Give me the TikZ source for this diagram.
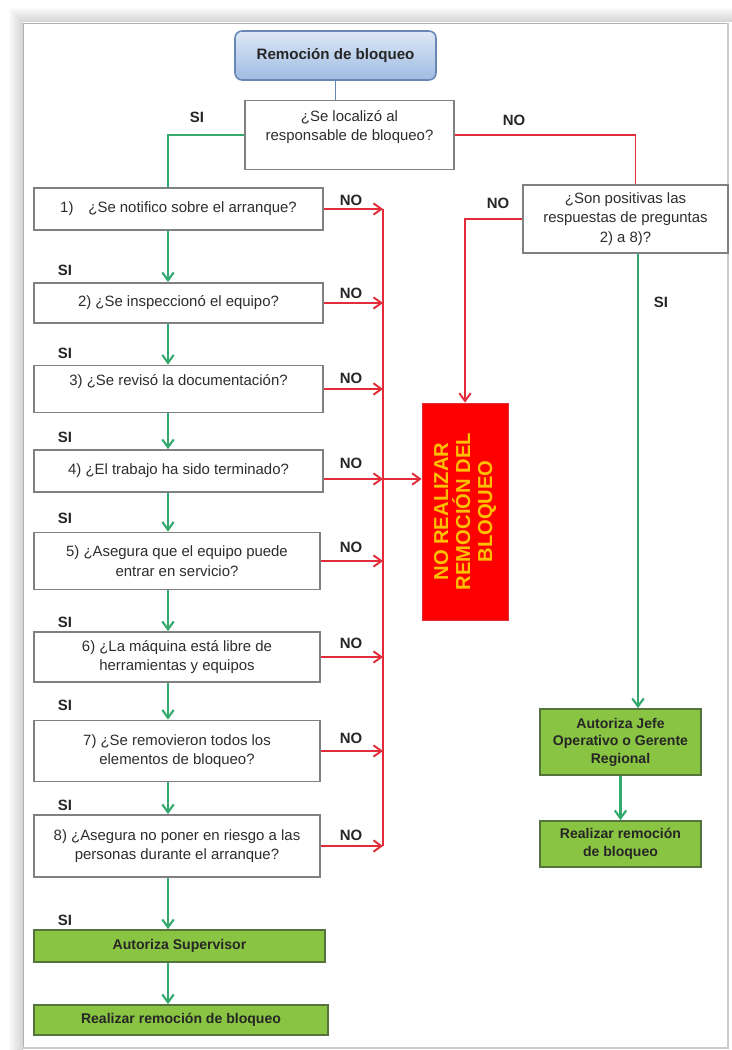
\documentclass[tikz,border=0pt]{standalone}
\usepackage{fontspec}
\setmainfont{Liberation Sans}
\usepackage{tikz}
\usetikzlibrary{arrows.meta, positioning, calc}
\definecolor{sigreen}{RGB}{50,170,110}
\definecolor{nored}{RGB}{226,44,58}
\definecolor{boxgray}{RGB}{128,128,128}
\definecolor{okfill}{RGB}{137,196,66}
\definecolor{okdraw}{RGB}{85,115,60}
\definecolor{hdrtop}{RGB}{222,232,246}
\definecolor{hdrbot}{RGB}{158,187,226}
\definecolor{hdrdraw}{RGB}{105,135,180}
\definecolor{stopfill}{RGB}{255,0,0}
\definecolor{stoptext}{RGB}{255,192,0}
\definecolor{txtdark}{RGB}{45,45,45}
\tikzset{
  qbox/.style={rectangle, draw=boxgray, fill=white, line width=1pt,
    align=center, text=txtdark, inner sep=1pt,
    font=\fontsize{8.5}{11}\selectfont},
  okbox/.style={rectangle, draw=okdraw, fill=okfill, line width=1pt,
    align=center, text=black!85, inner sep=1pt,
    font=\fontsize{8}{10}\selectfont\bfseries},
  hdrbox/.style={rectangle, rounded corners=4pt, draw=hdrdraw,
    top color=hdrtop, bottom color=hdrbot, line width=0.9pt,
    text=black!85, font=\fontsize{8.6}{10}\selectfont\bfseries},
  stopbox/.style={rectangle, draw=nored, fill=stopfill, rotate=90,
    align=center, text=stoptext, inner sep=1pt,
    font=\fontsize{11.5}{12.5}\selectfont\bfseries},
  lbl/.style={inner sep=0pt, text=black!85,
    font=\fontsize{8.5}{10}\selectfont\bfseries},
  yes/.style={-{Straight Barb[length=4.5pt,width=6.5pt]}, line width=1.2pt, color=sigreen},
  yesline/.style={line width=1.2pt, color=sigreen},
  no/.style={-{Straight Barb[length=4.5pt,width=6.5pt]}, line width=1.1pt, color=nored},
  noline/.style={line width=1.1pt, color=nored}
}

\begin{document}
\begin{tikzpicture}[x=0.02cm, y=-0.02cm]
  \useasboundingbox (0,0) rectangle (732,1050);
  \clip (0,0) rectangle (732,1050);
  \fill[white] (0,0) rectangle (732,1050);
  \foreach \k in {1,...,14} {
    \pgfmathsetmacro\op{0.17-0.011*\k}
    \draw[black, opacity=\op, line width=0.02cm] (23-\k,1050) -- (23-\k,23-\k) -- (732,23-\k);
  }
  \draw[gray!60, line width=0.5pt] (23,1048) -- (23,23) -- (728,23);
  \draw[gray!40, line width=0.6pt] (23,1048) -- (728,1048) -- (728,23);

  \node[hdrbox, minimum width=4.02cm, minimum height=0.98cm] (start) at (335.5,55.5) {Remoción de bloqueo};
  \node[qbox, minimum width=4.18cm, minimum height=1.38cm, text depth=11pt] (loc) at (349.5,135)
    {¿Se localizó al\\responsable de bloqueo?};

  \node[qbox, minimum width=5.78cm, minimum height=0.84cm] (q1) at (178.5,209) {1)\quad ¿Se notifico sobre el arranque?};
  \node[qbox, minimum width=5.78cm, minimum height=0.80cm] (q2) at (178.5,303) {2) ¿Se inspeccionó el equipo?};
  \node[qbox, minimum width=5.78cm, minimum height=0.94cm, text depth=10.5pt] (q3) at (178.5,389) {3) ¿Se revisó la documentación?};
  \node[qbox, minimum width=5.78cm, minimum height=0.84cm] (q4) at (178.5,471) {4) ¿El trabajo ha sido terminado?};
  \node[qbox, minimum width=5.72cm, minimum height=1.14cm] (q5) at (177,561) {5) ¿Asegura que el equipo puede\\entrar en servicio?};
  \node[qbox, minimum width=5.72cm, minimum height=1.00cm] (q6) at (177,657) {6) ¿La máquina está libre de\\herramientas y equipos};
  \node[qbox, minimum width=5.72cm, minimum height=1.22cm] (q7) at (177,751) {7) ¿Se removieron todos los\\elementos de bloqueo?};
  \node[qbox, minimum width=5.72cm, minimum height=1.24cm] (q8) at (177,846) {8) ¿Asegura no poner en riesgo a las\\personas durante el arranque?};
  \node[okbox, minimum width=5.82cm, minimum height=0.64cm] (supv) at (179.5,946) {Autoriza Supervisor};
  \node[okbox, minimum width=5.88cm, minimum height=0.60cm] (real1) at (181,1020) {Realizar remoción de bloqueo};

  \node[qbox, minimum width=4.10cm, minimum height=1.36cm] (pos) at (625.5,219)
    {¿Son positivas las\\respuestas de preguntas\\2) a 8)?};
  \node[stopbox, minimum width=4.34cm, minimum height=1.72cm] (stop) at (465,511.5)
    {NO REALIZAR\\REMOCIÓN DEL\\BLOQUEO};
  \node[okbox, minimum width=3.22cm, minimum height=1.32cm] (jefe) at (620.5,742)
    {Autoriza Jefe\\Operativo o Gerente\\Regional};
  \node[okbox, minimum width=3.22cm, minimum height=0.92cm] (real2) at (620.5,844)
    {Realizar remoción\\de bloqueo};

  \node[lbl] (si0) at (197,117) {SI};
  \node[lbl] (no0) at (514,120) {NO};
  \node[lbl] (nopos) at (498,203) {NO};
  \node[lbl] (sipos) at (661,302) {SI};
  \foreach \i/\y in {1/270, 2/353, 3/437, 4/518, 5/622, 6/705, 7/805, 8/920}
    \node[lbl] (si\i) at (65,\y) {SI};
  \foreach \i/\y in {1/200, 2/293, 3/378, 4/463, 5/547, 6/643, 7/738, 8/835}
    \node[lbl] (no\i) at (351,\y) {NO};

  \coordinate (gx) at (168,0);
  \coordinate (bus) at (383,0);
  \coordinate (j4) at (383,479);

  \draw[hdrdraw, line width=1pt] (start.south) -- (start.south |- loc.north);
  \draw[yesline] (loc.west) -| (q1.north -| gx);
  \foreach \a/\b in {q1/q2, q2/q3, q3/q4, q4/q5, q5/q6, q6/q7, q7/q8, q8/supv, supv/real1}
    \draw[yes] (\a.south -| gx) -- (\b.north -| gx);

  \foreach \q in {q1, q2, q3, q5, q6, q7, q8}
    \draw[no] (\q.east) -- (\q.east -| bus);
  \draw[no] (j4 -| q4.east) -- (j4);
  \draw[noline] (q1.east -| bus) -- (q8.east -| bus);
  \draw[no] (j4) -- (j4 -| stop.north);

  \draw[noline] (loc.east) -| ([xshift=0.2cm]pos.north);
  \draw[no] (pos.west) -| (stop.east);
  \draw[yes] ([xshift=0.25cm]pos.south) -- ([xshift=0.25cm]pos.south |- jefe.north);
  \draw[yes] (jefe.south) -- (real2.north);
\end{tikzpicture}
\end{document}
